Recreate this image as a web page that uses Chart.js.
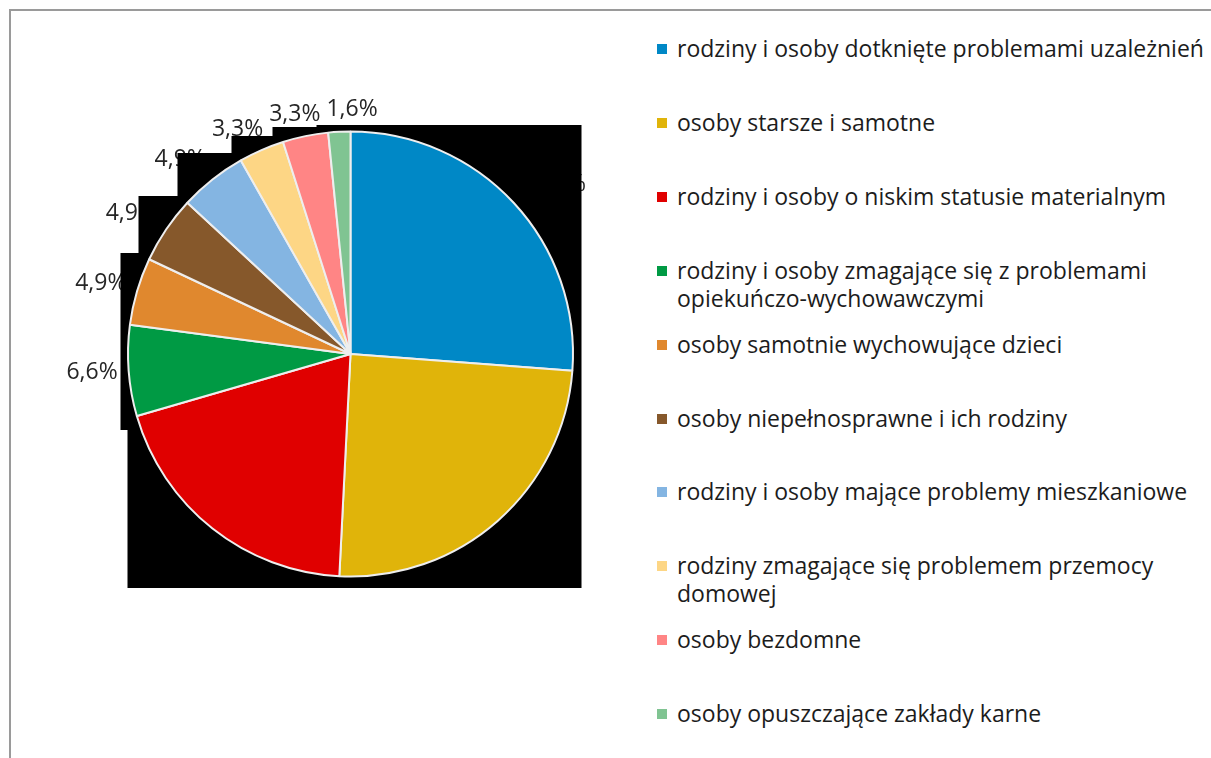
<!DOCTYPE html>
<html>
<head>
<meta charset="utf-8">
<script src="https://cdn.jsdelivr.net/npm/chart.js@4/dist/chart.umd.min.js"></script>
<style>
  html, body { margin: 0; padding: 0; background: #fff; width: 1211px; height: 758px; overflow: hidden; }
  #frame { position: absolute; left: 9px; top: 9px; width: 1300px; height: 800px; border-top: 2px solid #9a9a9a; border-left: 2px solid #9a9a9a; }
  #c { position: absolute; left: 0; top: 0; }
  #legend { position: absolute; left: 657px; top: 0; width: 600px; font-family: "Open Sans", sans-serif; font-size: 23px; color: #1c1c1c; }
  .item { position: absolute; left: 0; display: flex; align-items: flex-start; line-height: 28px; white-space: nowrap; }
  .sw { width: 10px; height: 10px; margin-top: 10px; margin-right: 10px; flex: none; }
</style>
</head>
<body>
<div id="frame"></div>
<canvas id="c" width="640" height="758"></canvas>
<div id="legend"></div>
<script>
const categories = [
  "rodziny i osoby dotknięte problemami uzależnień",
  "osoby starsze i samotne",
  "rodziny i osoby o niskim statusie materialnym",
  "rodziny i osoby zmagające się z problemami\nopiekuńczo-wychowawczymi",
  "osoby samotnie wychowujące dzieci",
  "osoby niepełnosprawne i ich rodziny",
  "rodziny i osoby mające problemy mieszkaniowe",
  "rodziny zmagające się problemem przemocy\ndomowej",
  "osoby bezdomne",
  "osoby opuszczające zakłady karne"
];
const percentValues = [26.2, 24.6, 19.7, 6.6, 4.9, 4.9, 4.9, 3.3, 3.3, 1.6];
const sliceColors = ["#0088C6", "#E0B40A", "#E00000", "#009A44", "#E0882E", "#86582B", "#84B5E2", "#FDD685", "#FF8585", "#80C492"];

// HTML legend built from the arrays
const legend = document.getElementById('legend');
const slot = 73.9;
categories.forEach((name, i) => {
  const it = document.createElement('div');
  it.className = 'item';
  it.style.top = (34 + i * slot) + 'px';
  const sw = document.createElement('div');
  sw.className = 'sw';
  sw.style.background = sliceColors[i];
  const tx = document.createElement('div');
  tx.innerHTML = name.split('\n').join('<br>');
  it.appendChild(sw); it.appendChild(tx);
  legend.appendChild(it);
});

const FONT = '23px "Open Sans", sans-serif';

function computeLabels(chart) {
  const ctx = chart.ctx;
  const meta = chart.getDatasetMeta(0);
  const ds = chart.data.datasets[0];
  ctx.save();
  ctx.font = FONT;
  const labs = meta.data.map((a, i) => {
    const mid = (a.startAngle + a.endAngle) / 2;
    const dx = Math.cos(mid), dy = Math.sin(mid);
    const txt = ds.data[i].toFixed(1).replace('.', ',') + '%';
    const W = ctx.measureText(txt).width / 2, H = 11, g = 11;
    const ax = a.x + dx * (a.outerRadius + g), ay = a.y + dy * (a.outerRadius + g);
    const fx = Math.min(1, 1.6 * Math.abs(dx)), fy = Math.min(1, 1.6 * Math.abs(dy));
    return { txt, W, H, x: ax + Math.sign(dx) * W * fx, y: ay + Math.sign(dy) * H * fy };
  });
  ctx.restore();
  // simple collision avoidance, walking from the last slice backwards
  const n = labs.length, gap = 6;
  const overlap = (p, q) => Math.abs(p.y - q.y) < p.H + q.H + 2 && Math.abs(p.x - q.x) < p.W + q.W + gap;
  for (let i = n - 3; i >= 3; i--) {
    const p = labs[i], q = labs[i + 1];
    if (overlap(p, q)) p.x = q.x - (p.W + q.W + gap);
  }
  if (overlap(labs[n - 1], labs[n - 2])) labs[n - 1].x = labs[n - 2].x + labs[n - 1].W + labs[n - 2].W + gap;
  return labs;
}

// labels first, then the black backdrop (covers them), then the pie
const backdropPlugin = {
  id: 'backdrop',
  beforeDatasetsDraw(chart) {
    const ctx = chart.ctx;
    const labs = computeLabels(chart);
    ctx.save();
    ctx.font = FONT;
    ctx.fillStyle = '#262626';
    ctx.textAlign = 'center';
    ctx.textBaseline = 'middle';
    labs.forEach(l => ctx.fillText(l.txt, l.x, l.y));
    ctx.restore();

    const arc = chart.getDatasetMeta(0).data[0];
    const cx = arc.x, cy = arc.y;
    const pts = [
      [-230, -101], [-212, -101], [-212, -158], [-173, -158], [-173, -201],
      [-119, -201], [-119, -218], [-78, -218], [-78, -227], [-34, -227],
      [-34, -229], [231, -229], [231, 234], [-223, 234], [-223, 76], [-230, 76]
    ];
    ctx.save();
    ctx.fillStyle = '#000';
    ctx.beginPath();
    pts.forEach((p, i) => i ? ctx.lineTo(cx + p[0], cy + p[1]) : ctx.moveTo(cx + p[0], cy + p[1]));
    ctx.closePath();
    ctx.fill();
    ctx.restore();
  }
};

new Chart(document.getElementById('c'), {
  type: 'pie',
  data: {
    labels: categories,
    datasets: [{
      data: percentValues,
      backgroundColor: sliceColors,
      borderColor: '#eeeeee',
      borderWidth: 2
    }]
  },
  options: {
    responsive: false,
    animation: false,
    devicePixelRatio: 1,
    layout: { padding: { left: 127, top: 130, right: 66, bottom: 180 } },
    plugins: { legend: { display: false }, tooltip: { enabled: false } }
  },
  plugins: [backdropPlugin]
});
</script>
</body>
</html>
